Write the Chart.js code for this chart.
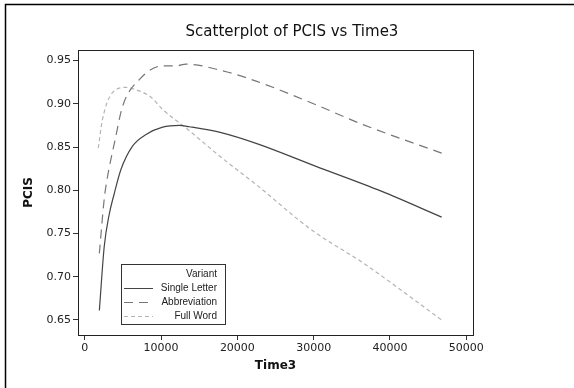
<!DOCTYPE html>
<html>
<head>
<meta charset="utf-8">
<script src="https://cdn.jsdelivr.net/npm/chart.js@4"></script>
<style>
    html, body { margin: 0; padding: 0; background: #fff; }
    #wrap { width: 574px; height: 388px; position: relative; }
</style>
</head>
<body>
<div id="wrap"><canvas id="chart" width="574" height="388"></canvas></div>
<script>
    // datos
    const singleTime  = [1900, 2540, 3190, 3850, 4730, 6250, 8020, 10200, 12390, 13700, 17750, 22550, 30230, 38870, 46790];
    const singlePcis  = [0.661, 0.735, 0.772, 0.796, 0.824, 0.851, 0.8645, 0.873, 0.875, 0.8735, 0.867, 0.854, 0.828, 0.799, 0.769];

    const abbrevTime  = [1900, 2540, 2900, 3980, 4940, 7140, 10200, 12000, 13270, 17750, 22550, 29750, 36470, 46790];
    const abbrevPcis  = [0.727, 0.790, 0.812, 0.859, 0.897, 0.928, 0.944, 0.944, 0.946, 0.939, 0.926, 0.901, 0.876, 0.843];

    const fullTime    = [1760, 2310, 3630, 5390, 6480, 8640, 10200, 13270, 17750, 22550, 29750, 36470, 46790];
    const fullPcis    = [0.849, 0.882, 0.913, 0.919, 0.917, 0.908, 0.8935, 0.872, 0.839, 0.806, 0.754, 0.716, 0.650];

    const seriesNames = ['Single Letter', 'Abbreviation', 'Full Word'];
    const xTicks = [0, 10000, 20000, 30000, 40000, 50000];
    const yTicks = [0.65, 0.70, 0.75, 0.80, 0.85, 0.90, 0.95];

    const toPoints = (xs, ys) => xs.map((x, i) => ({ x: x, y: ys[i] }));

    const FONT = "'DejaVu Sans', sans-serif";
    const LEGEND_FONT = "'Liberation Sans', sans-serif";

    // marco, título y leyenda dibujados a mano
    const decorPlugin = {
        id: 'decor',
        afterDraw(chart) {
            const ctx = chart.ctx;
            const a = chart.chartArea;
            ctx.save();

            // marco exterior
            ctx.strokeStyle = '#000';
            ctx.lineWidth = 1.5;
            ctx.beginPath();
            ctx.moveTo(5.5, 400);
            ctx.lineTo(5.5, 4.5);
            ctx.lineTo(580, 4.5);
            ctx.stroke();

            // caja del área de trazado
            ctx.strokeStyle = '#222';
            ctx.lineWidth = 1;
            ctx.strokeRect(Math.round(a.left) + 0.5, Math.round(a.top) + 0.5,
                Math.round(a.right - a.left), Math.round(a.bottom - a.top));

            // título
            ctx.fillStyle = '#111';
            ctx.font = '15px ' + FONT;
            ctx.textAlign = 'center';
            ctx.textBaseline = 'middle';
            ctx.fillText('Scatterplot of PCIS vs Time3', 292, 32);

            // leyenda
            const lx = 121, ly = 264, lw = 104, lh = 60;
            ctx.fillStyle = '#fff';
            ctx.fillRect(lx, ly, lw, lh);
            ctx.strokeStyle = '#333';
            ctx.strokeRect(lx + 0.5, ly + 0.5, lw, lh);

            ctx.font = '10px ' + LEGEND_FONT;
            ctx.textAlign = 'right';
            ctx.fillStyle = '#222';
            ctx.fillText('Variant', 217, 274);
            chart.data.datasets.forEach((ds, i) => {
                const y = 288 + i * 14;
                ctx.fillStyle = '#222';
                ctx.fillText(ds.label, 217, y);
                ctx.strokeStyle = ds.borderColor;
                ctx.lineWidth = 1;
                ctx.setLineDash(ds.borderDash || []);
                ctx.beginPath();
                ctx.moveTo(124, y + 0.5);
                ctx.lineTo(153, y + 0.5);
                ctx.stroke();
                ctx.setLineDash([]);
            });

            ctx.restore();
        }
    };

    const lineDefaults = {
        showLine: true,
        pointRadius: 0,
        borderWidth: 1.2,
        cubicInterpolationMode: 'monotone',
        fill: false
    };

    new Chart(document.getElementById('chart'), {
        type: 'scatter',
        data: {
            datasets: [
                {
                    ...lineDefaults,
                    label: seriesNames[0],
                    data: toPoints(singleTime, singlePcis),
                    borderColor: '#444'
                },
                {
                    ...lineDefaults,
                    label: seriesNames[1],
                    data: toPoints(abbrevTime, abbrevPcis),
                    borderColor: '#777',
                    borderDash: [9, 6]
                },
                {
                    ...lineDefaults,
                    label: seriesNames[2],
                    data: toPoints(fullTime, fullPcis),
                    borderColor: '#b4b4b4',
                    borderDash: [4, 3]
                }
            ]
        },
        options: {
            responsive: false,
            animation: false,
            layout: {
                padding: { left: 0, top: 50, right: 101, bottom: 0 }
            },
            plugins: {
                legend: { display: false },
                tooltip: { enabled: false },
                title: { display: false }
            },
            scales: {
                x: {
                    type: 'linear',
                    min: -900,
                    max: 50900,
                    afterBuildTicks: scale => { scale.ticks = xTicks.map(v => ({ value: v })); },
                    afterFit: scale => { scale.height = 53; },
                    grid: {
                        drawOnChartArea: false,
                        drawTicks: true,
                        tickLength: 5,
                        color: '#333'
                    },
                    border: { display: true, color: '#222' },
                    ticks: {
                        padding: 2,
                        color: '#222',
                        font: { family: FONT, size: 11 },
                        maxRotation: 0,
                        callback: v => String(v)
                    },
                    title: {
                        display: true,
                        text: 'Time3',
                        color: '#111',
                        font: { family: FONT, size: 12, weight: 'bold' },
                        padding: { top: 0, bottom: 15 }
                    }
                },
                y: {
                    type: 'linear',
                    min: 0.6326,
                    max: 0.9623,
                    afterBuildTicks: scale => { scale.ticks = yTicks.map(v => ({ value: v })); },
                    afterFit: scale => { scale.width = 78; },
                    grid: {
                        drawOnChartArea: false,
                        drawTicks: true,
                        tickLength: 5,
                        color: '#333'
                    },
                    border: { display: true, color: '#222' },
                    ticks: {
                        padding: 2,
                        color: '#222',
                        font: { family: FONT, size: 11 },
                        callback: v => v.toFixed(2)
                    },
                    title: {
                        display: true,
                        text: 'PCIS',
                        color: '#111',
                        font: { family: FONT, size: 12, weight: 'bold' },
                        padding: { top: 22, bottom: 0 }
                    }
                }
            }
        },
        plugins: [decorPlugin]
    });
</script>
</body>
</html>
